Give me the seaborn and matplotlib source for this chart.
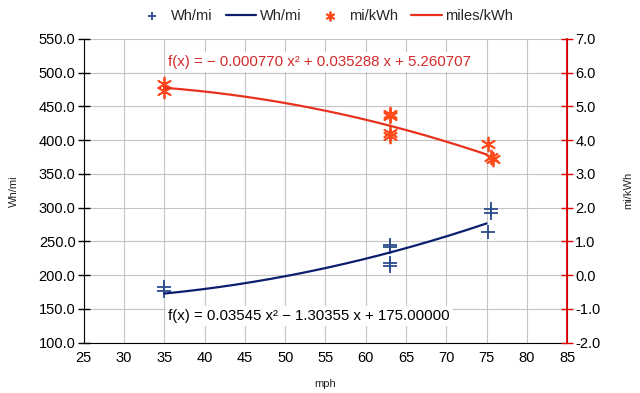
# Wh/mi and mi/kWh vs speed, with quadratic trend lines

import numpy as np
import pandas as pd
import matplotlib
matplotlib.use("Agg")
from matplotlib import pyplot as plt
from matplotlib.ticker import MultipleLocator, FormatStrFormatter
import seaborn as sns

mph_wh = [35, 35, 63, 63, 63, 63, 75.2, 75.6, 75.6]
wh_mi = [183, 177, 245, 242, 218, 214, 264, 298, 292]
mph_kwh = [35, 35, 63, 63, 63, 63, 75.2, 75.6, 75.8]
mi_kwh = [5.65, 5.46, 4.78, 4.72, 4.20, 4.13, 3.88, 3.50, 3.43]

# trend line coefficients (as printed on the chart)
fit_wh = [0.03545, -1.30355, 175.00000]
fit_kwh = [-0.000770, 0.035288, 5.260707]
fit_from, fit_to = 35, 75

eq_wh = "f(x) = 0.03545 x² − 1.30355 x + 175.00000"
eq_kwh = "f(x) = − 0.000770 x² + 0.035288 x + 5.260707"

sns.set_style("white")
plt.rcParams['font.family'] = ['Liberation Sans', 'DejaVu Sans']
plt.rcParams['font.size'] = 10.5

blue_pts = "#2b4c8c"
blue_line = "#0c1f6e"
red_pts = "#ff4a1c"
red_line = "#e8321e"
red_axis = "#e00000"

df_wh = pd.DataFrame({'mph': mph_wh, 'Wh/mi': wh_mi})
df_kwh = pd.DataFrame({'mph': mph_kwh, 'mi/kWh': mi_kwh})
xs = np.linspace(fit_from, fit_to, 200)
df_fit = pd.DataFrame({'mph': xs,
                       'wh': np.polyval(fit_wh, xs),
                       'kwh': np.polyval(fit_kwh, xs)})

fig = plt.figure(figsize=(6.4, 3.93), dpi=100)
ax = fig.add_axes([0.131, 0.128, 0.755, 0.773])
ax2 = ax.twinx()

sns.scatterplot(data=df_wh, x='mph', y='Wh/mi', ax=ax, marker='+', s=110,
                color=blue_pts, linewidth=1.3, label='Wh/mi', zorder=3)
sns.lineplot(data=df_fit, x='mph', y='wh', ax=ax, color=blue_line,
             linewidth=1.6, label='Wh/mi', zorder=3)
sns.scatterplot(data=df_kwh, x='mph', y='mi/kWh', ax=ax2, marker=(6, 2, 0), s=100,
                color=red_pts, edgecolor=red_pts, linewidth=1.3, label='mi/kWh', zorder=3)
sns.lineplot(data=df_fit, x='mph', y='kwh', ax=ax2, color=red_line,
             linewidth=1.6, label='miles/kWh', zorder=3)

ax.set_xlim(25, 85)
ax.set_ylim(100, 550)
ax2.set_ylim(-2, 7)
ax.xaxis.set_major_locator(MultipleLocator(5))
ax.yaxis.set_major_locator(MultipleLocator(50))
ax2.yaxis.set_major_locator(MultipleLocator(1))
ax.yaxis.set_major_formatter(FormatStrFormatter('%.1f'))
ax2.yaxis.set_major_formatter(FormatStrFormatter('%.1f'))

ax.grid(True, color='#c4c4c4', linewidth=0.8)
ax.set_axisbelow(True)
for a in (ax, ax2):
    a.spines['top'].set_visible(False)
ax.spines['left'].set_color('black')
ax.spines['bottom'].set_color('black')
ax2.spines['left'].set_visible(False)
ax2.spines['bottom'].set_visible(False)
ax2.spines['right'].set_color(red_axis)
ax2.spines['right'].set_linewidth(1.3)
ax.tick_params(axis='both', direction='inout', length=8, width=1, colors='black', pad=2)
ax2.tick_params(axis='y', direction='inout', length=8, width=1, color=red_axis,
                labelcolor='black', pad=2)

ax.set_xlabel('mph', fontsize=8, labelpad=10)
ax.set_ylabel('Wh/mi', fontsize=8, labelpad=14)
ax2.set_ylabel('mi/kWh', fontsize=8, labelpad=16)

ax.text(35.5, 139.5, eq_wh, ha='left', va='center', color='black', zorder=4,
        fontsize=10.8, bbox=dict(facecolor='white', edgecolor='none', pad=2))
ax.text(35.5, 516, eq_kwh, ha='left', va='center', color='#d42a2a', zorder=4,
        fontsize=10.8, bbox=dict(facecolor='white', edgecolor='none', pad=2))

h1, l1 = ax.get_legend_handles_labels()
h2, l2 = ax2.get_legend_handles_labels()
for a in (ax, ax2):
    if a.get_legend() is not None:
        a.get_legend().remove()
fig.legend(h1 + h2, l1 + l2, loc='upper center', bbox_to_anchor=(0.508, 1.01),
           ncol=4, frameon=False, handlelength=2.1, handletextpad=0.25,
           columnspacing=0.9, markerscale=0.6)

fig.savefig('out.png', dpi=100)
